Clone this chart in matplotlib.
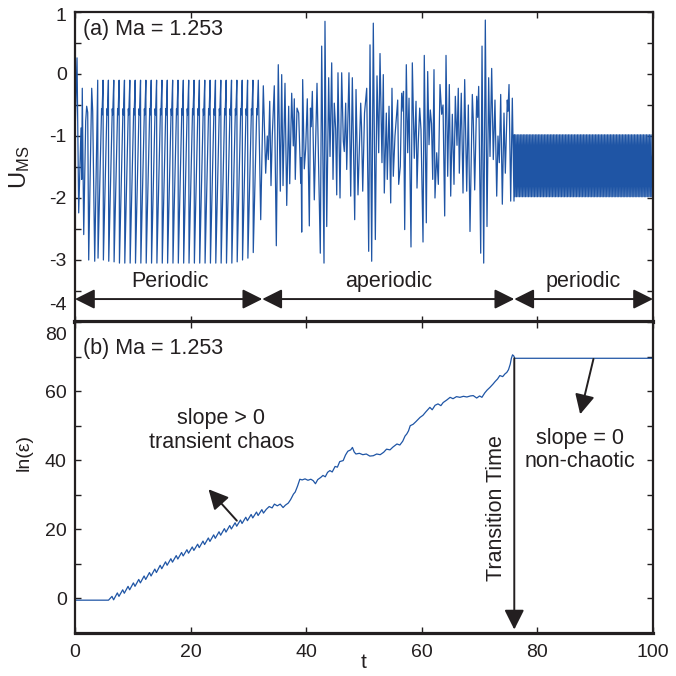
import matplotlib
matplotlib.use("Agg")
import matplotlib.pyplot as plt
import numpy as np

plt.rcParams['font.family'] = ['Liberation Sans', 'DejaVu Sans']
plt.rcParams['mathtext.fontset'] = 'custom'
plt.rcParams['mathtext.rm'] = 'Liberation Sans'
plt.rcParams['mathtext.it'] = 'Liberation Sans:italic'
plt.rcParams['axes.unicode_minus'] = False

# ---------------- data: panel (a) U_MS ----------------
# initial transient (t, U)
t_trans = [0.0, 0.35, 0.64, 1.04, 1.16, 1.26, 1.51, 1.85, 2.02, 2.20, 2.37, 2.89, 3.06, 3.41]
u_trans = [-1.0, 0.26, -2.24, -0.87, -1.70, -0.23, -2.59, -0.76, -0.52, -0.62, -3.00, -0.23, -0.60, -3.02]

# regular periodic cycles (read: peak, trough per cycle, shoulder)
periodic_start = 3.93
periodic_period = 0.926
periodic_peak = -0.10
periodic_shoulder = [-0.56, -0.66]
periodic_troughs = [-2.97, -3.00, -3.02, -3.03, -3.05, -3.05, -3.05, -3.05, -3.05, -3.05,
                    -3.05, -3.05, -3.05, -3.05, -3.05, -3.05, -3.05, -3.05, -3.05, -3.05,
                    -3.05, -3.05, -3.05, -3.05, -3.05, -3.05, -3.03, -3.00, -2.97, -2.88]
cycle_phase = [0.0, 0.06, 0.72, 0.80]

# aperiodic section: extrema
t_aper = [32.13, 32.58, 32.99, 33.27, 33.44, 33.69, 33.91, 34.13, 34.48, 34.83, 35.17, 35.52,
          35.76, 35.99, 36.33, 36.63, 36.97, 37.15, 37.49, 37.77, 37.94, 38.11, 38.41, 38.70,
          39.05, 39.13, 39.22, 39.39, 39.67, 39.91, 40.19, 40.54, 40.74, 40.87, 41.06, 41.40,
          41.87, 42.44, 42.68, 43.08, 43.25, 43.55, 43.89, 44.12, 44.41, 44.64, 44.86, 45.10,
          45.28, 45.50, 45.85, 46.14, 46.42, 46.59, 46.83, 47.01, 47.40, 47.70, 47.98, 48.39,
          48.62, 48.96, 49.43, 49.57, 49.78, 50.09, 50.47, 50.81, 51.04, 51.33, 51.61, 51.96,
          52.25, 52.54, 52.77, 53.11, 53.34, 53.51, 53.86, 54.03, 54.33, 54.62, 54.84, 55.07,
          55.36, 55.66, 55.83, 56.00, 56.28, 56.52, 56.75, 56.83, 57.04, 57.32, 57.56, 57.79,
          58.13, 58.36, 58.70, 59.00, 59.17, 59.39, 59.64, 59.86, 60.21, 60.43, 60.78, 61.02,
          61.25, 61.47, 61.68, 61.89, 62.11, 62.28, 62.58, 62.86, 63.15, 63.44, 63.67, 63.96,
          64.19, 64.48, 64.76, 65.00, 65.28, 65.57, 65.80, 66.09, 66.31, 66.49, 66.83, 67.13,
          67.42, 67.77, 68.05, 68.34, 68.74, 68.91, 69.15, 69.50, 69.67, 69.84, 70.19, 70.42,
          70.71, 70.99, 71.28, 71.57, 71.80, 72.09, 72.37, 72.66, 72.96, 73.18, 73.41, 73.65,
          73.93, 74.22, 74.45, 74.79, 74.91, 75.09, 75.38, 75.66, 75.95]
u_aper = [-2.35, -0.19, -1.60, -1.00, -1.38, -0.44, -1.80, -1.00, -0.19, -2.77, 0.15, -1.89,
          -0.01, -1.80, -0.15, -2.12, -0.52, -1.77, -0.31, -1.16, -0.40, -1.70, -0.55, -0.63,
          -1.76, -1.35, -2.55, -0.09, -1.53, -1.20, -0.40, -2.45, -0.55, -0.85, -0.28, -2.03,
          -0.15, -2.89, 0.45, -3.05, 0.85, -2.46, -0.06, -1.33, 0.18, -1.70, -0.47, -0.90,
          -1.95, 0.02, -2.00, 0.02, -1.08, -1.25, -0.47, -1.54, 0.02, -1.97, -0.06, -2.35,
          -0.25, -1.95, -0.47, -0.85, -1.89, -0.63, -0.23, -2.86, 0.47, -3.02, 0.82, -2.67,
          -0.03, -1.27, 0.33, -1.43, -0.01, -1.92, -0.63, -1.70, -0.52, -2.08, -0.23, -1.65,
          -1.00, -0.63, -0.42, -1.78, -1.49, -0.31, -0.60, -0.28, -2.51, 0.15, -1.27, -0.39,
          -2.79, 0.18, -1.36, -0.44, -1.84, -1.10, -0.55, -0.90, -2.71, 0.30, -2.40, 0.04,
          -1.14, -0.58, -0.80, -1.70, 0.07, -2.00, -1.27, -1.78, -0.17, -0.65, -0.50, -2.29,
          0.30, -1.65, -0.17, -1.97, -0.65, -1.78, -0.36, -1.15, -0.23, -1.60, -0.31, -1.92,
          -0.09, -1.89, -0.50, -2.54, -0.33, -0.75, -1.87, -0.36, -0.70, -0.20, -2.89, 0.45,
          -3.05, 0.87, -2.46, -0.06, -1.33, 0.09, -1.38, -0.42, -1.97, -1.00, -1.43, -0.33,
          -2.10, -0.63, -1.60, -0.42, -0.60, -0.17, -2.05, -0.39, -2.05]

# final periodic band
band_start = 76.0
band_end = 100.0
band_period = 0.26
band_high = -0.98
band_low = -1.98

# ---------------- data: panel (b) ln(eps) ----------------
ln_flat_t = [0.0, 5.8]
ln_flat_v = [-0.5, -0.5]
ripple_start = 6.4
ripple_period = 0.926
ripple_peaks = [0.6, 1.6, 2.5, 3.5, 4.5, 5.5, 6.5, 7.5, 8.5, 9.6, 10.6, 11.5, 12.4, 13.3, 14.1,
                14.9, 15.7, 16.6, 17.5, 18.4, 19.3, 20.2, 21.1, 21.9, 22.7, 23.5, 24.3, 25.0, 25.7]
ripple_troughs = [-0.4, 0.6, 1.5, 2.5, 3.5, 4.5, 5.5, 6.5, 7.5, 8.6, 9.6, 10.5, 11.4, 12.3, 13.1,
                  13.9, 14.7, 15.6, 16.5, 17.4, 18.3, 19.2, 20.1, 20.9, 21.7, 22.5, 23.3, 24.0, 24.7]
ln_t = [33.1, 33.6, 34.1, 34.5, 35.0, 35.5, 36.0, 36.4, 36.9, 37.3, 37.8, 38.1, 38.5, 38.9, 39.3,
        39.8, 40.3, 40.8, 41.2, 41.6, 42.0, 42.5, 42.9, 43.3, 43.7, 44.1, 44.5, 45.0, 45.4, 45.8,
        46.4, 46.8, 47.2, 47.7, 48.0, 48.3, 48.6, 49.2, 49.8, 50.4, 51.0, 51.6, 52.2, 52.8, 53.4,
        53.9, 54.5, 55.0, 55.7, 56.2, 56.7, 57.1, 57.4, 57.7, 58.0, 58.5, 59.0, 59.7, 60.2, 60.7,
        61.4, 61.8, 62.3, 62.8, 63.3, 63.7, 64.3, 64.9, 65.4, 66.0, 66.6, 67.2, 67.8, 68.4, 68.9,
        69.5, 70.0, 70.4, 70.9, 71.3, 71.8, 72.3, 72.7, 73.1, 73.5, 74.0, 74.4, 74.7, 75.0, 75.3,
        75.5, 75.7, 75.9, 76.1, 100.0]
ln_v = [25.8, 26.6, 26.2, 27.3, 26.8, 27.3, 26.3, 27.0, 27.6, 28.6, 30.2, 30.8, 32.5, 34.5, 34.3,
        34.6, 34.2, 34.5, 34.1, 33.2, 34.4, 35.0, 35.6, 35.2, 36.5, 37.0, 36.6, 38.2, 38.0, 39.6,
        39.9, 41.5, 42.6, 43.0, 43.7, 42.4, 41.8, 42.0, 41.6, 41.8, 41.2, 41.3, 41.8, 41.6, 42.3,
        43.2, 43.0, 43.8, 44.7, 44.4, 45.5, 47.0, 47.6, 48.5, 50.0, 50.4, 51.2, 52.4, 53.0, 54.0,
        55.3, 54.6, 55.9, 56.3, 55.8, 56.7, 57.4, 58.2, 57.8, 58.4, 58.2, 58.5, 58.3, 58.6, 58.7,
        58.0, 58.6, 58.2, 59.5, 60.3, 61.1, 62.0, 62.8, 63.5, 64.5, 64.2, 65.0, 65.4, 66.2, 67.8,
        69.5, 70.5, 70.2, 69.5, 69.5]
transition_t = 76.0
plateau_v = 69.5

# ---------------- build series ----------------
ua_t = list(t_trans)
ua_u = list(u_trans)
for k, tr in enumerate(periodic_troughs):
    t0 = periodic_start + k * periodic_period
    vals = [periodic_peak, tr, periodic_shoulder[0], periodic_shoulder[1]]
    for ph, v in zip(cycle_phase, vals):
        ua_t.append(t0 + ph * periodic_period)
        ua_u.append(v)
ua_t.append(periodic_start + len(periodic_troughs) * periodic_period)
ua_u.append(periodic_peak)
ua_t += t_aper
ua_u += u_aper
n_band = int(round((band_end - band_start) / band_period))
for k in range(n_band):
    t0 = band_start + k * band_period
    ua_t += [t0, t0 + band_period / 2]
    ua_u += [band_high, band_low]
ua_t.append(band_end)
ua_u.append(band_high)

lb_t = list(ln_flat_t)
lb_v = list(ln_flat_v)
for k, (pk, tr) in enumerate(zip(ripple_peaks, ripple_troughs)):
    t0 = ripple_start + k * ripple_period
    lb_t += [t0, t0 + 0.3 * ripple_period]
    lb_v += [pk, tr]
lb_t += ln_t
lb_v += ln_v

# ---------------- figure ----------------
fig = plt.figure(figsize=(6.76, 6.76), dpi=100)
L, W = 75 / 676, 578 / 676
ax1 = fig.add_axes([L, 1 - 322 / 676, W, 310 / 676])
ax2 = fig.add_axes([L, 1 - 633 / 676, W, 311 / 676])

line_c = '#1f55a5'
txt_c = '#231f20'

ax1.plot(ua_t, ua_u, color=line_c, lw=0.9)
ax2.plot(lb_t, lb_v, color=line_c, lw=0.9)

for ax in (ax1, ax2):
    ax.set_xlim(0, 100)
    ax.set_xticks([0, 20, 40, 60, 80, 100])
    ax.tick_params(direction='in', length=4, width=1, top=True, right=True,
                   labelsize=14, colors=txt_c, pad=6)
    ax.tick_params(axis='x', pad=8)
    for s in ax.spines.values():
        s.set_linewidth(1.6)
        s.set_color(txt_c)

ax1.set_ylim(-4, 1)
ax1.set_yticks(np.arange(-4, 1.01, 0.5))
ax1.set_yticklabels(['' if (v in (-4.0, 1.0) or v != int(v)) else f'{int(v)}'
                     for v in np.arange(-4, 1.01, 0.5)])
ax1.set_xticklabels([])
ax1.spines['bottom'].set_linewidth(3.0)
ax1.annotate('1', xy=(0, 1), xycoords=('axes fraction', 'data'), xytext=(-6, -3),
             textcoords='offset points', ha='right', va='center', fontsize=14, color=txt_c)
ax1.annotate('-4', xy=(0, -4), xycoords=('axes fraction', 'data'), xytext=(-6, 12),
             textcoords='offset points', ha='right', va='center', fontsize=14, color=txt_c)

ax2.set_ylim(-10, 80)
ax2.set_yticks(np.arange(-10, 81, 10))
ax2.set_yticklabels(['' if (v % 20 != 0 or v == 80) else f'{v}' for v in np.arange(-10, 81, 10)])
ax2.spines['bottom'].set_linewidth(2.3)
ax2.annotate('80', xy=(0, 80), xycoords=('axes fraction', 'data'), xytext=(-6, -10),
             textcoords='offset points', ha='right', va='center', fontsize=14, color=txt_c)

ax1.set_ylabel(r'$\mathrm{U}_{\mathrm{MS}}$', fontsize=17, color=txt_c)
ax1.yaxis.set_label_coords(-0.074, 0.5)
ax2.set_ylabel('ln(ε)', fontsize=14, color=txt_c)
ax2.yaxis.set_label_coords(-0.074, 0.58)
ax2.set_xlabel('t', fontsize=15, color=txt_c, labelpad=-6)

fs = 15.5
ax1.text(0.014, 0.942, '(a) Ma = 1.253', transform=ax1.transAxes, fontsize=fs,
         color=txt_c, va='center', ha='left')
ax2.text(0.014, 0.916, '(b) Ma = 1.253', transform=ax2.transAxes, fontsize=fs,
         color=txt_c, va='center', ha='left')

# phase arrows in panel (a)
arr_y = -3.63
seg_bounds = [0.0, 32.4, 76.0, 100.0]
seg_labels = ['Periodic', 'aperiodic', 'periodic']
astyle = dict(arrowstyle='<|-|>,head_length=0.6,head_width=0.3', color=txt_c, lw=1.4,
              shrinkA=0, shrinkB=0, mutation_scale=20)
for a, b, lab in zip(seg_bounds[:-1], seg_bounds[1:], seg_labels):
    ax1.annotate('', xy=(b, arr_y), xytext=(a, arr_y), arrowprops=astyle, annotation_clip=False)
    ax1.text((a + b) / 2 + (0.3 if lab == 'Periodic' else 0), -3.34, lab, fontsize=fs,
             color=txt_c, ha='center', va='center')

# annotations in panel (b)
sstyle = dict(arrowstyle='-|>,head_length=0.6,head_width=0.3', color=txt_c, lw=1.4,
              shrinkA=0, shrinkB=0, mutation_scale=20)
ax2.text(25.3, 48.6, 'slope > 0\ntransient chaos', fontsize=fs, color=txt_c,
         ha='center', va='center', linespacing=1.15)
ax2.annotate('', xy=(23.1, 31.6), xytext=(28.0, 22.5), arrowprops=sstyle)
ax2.text(87.4, 43.0, 'slope = 0\nnon-chaotic', fontsize=fs, color=txt_c,
         ha='center', va='center', linespacing=1.15)
ax2.annotate('', xy=(87.4, 53.3), xytext=(89.7, 69.3), arrowprops=sstyle)
ax2.annotate('', xy=(transition_t, -9.0), xytext=(transition_t, plateau_v), arrowprops=sstyle)
ax2.text(73.0, 26.3, 'Transition Time', rotation=90, fontsize=fs, color=txt_c,
         ha='center', va='center')

fig.savefig('out.png', dpi=100)
